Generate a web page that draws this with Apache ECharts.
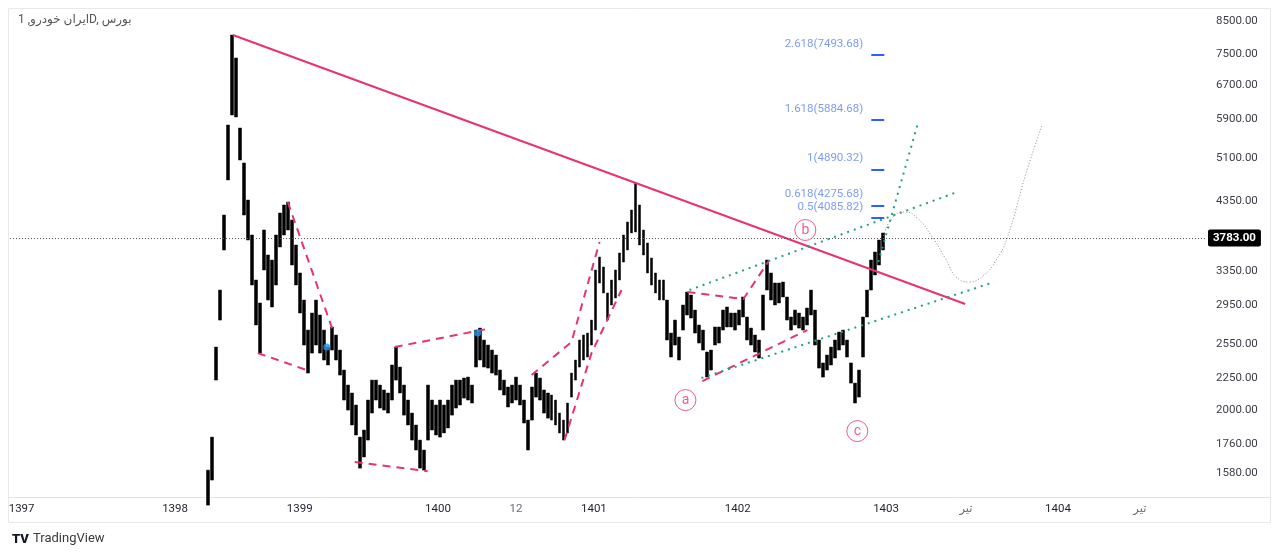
<!DOCTYPE html>
<html>
<head>
<meta charset="utf-8">
<script src="https://cdn.jsdelivr.net/npm/echarts@6/dist/echarts.min.js"></script>
<style>
  html, body { margin: 0; padding: 0; background: #fff; }
  #chart { width: 1280px; height: 557px; }
</style>
</head>
<body>
<div id="chart"></div>
<script>
// one slot ~ a few trading days, slot index is the x value
const slotCount = 299
const firstSlot = 49

const highs = [
  1597, 1806, 2525, 3122, 4128, 5771, 8068, 7406, 5707, 5010,
  4365, 3832, 3241, 2975, 3904, 3557, 3491, 3832, 4159, 4285,
  4333, 4052, 3692, 3327, 3008, 2690, 2866, 3008, 2845, 2690,
  2525, 2721, 2641, 2497, 2318, 2192, 2128, 2035, 1806, 1854,
  2073, 2233, 2233, 2192, 2152, 2128, 2362, 2525, 2344, 2192,
  2073, 1975, 1889, 1786, 1721, 2192, 2073, 2035, 2073, 2035,
  2073, 2192, 2233, 2233, 2250, 2258, 2192, 2690, 2710, 2592,
  2544, 2497, 2451, 2318, 2233, 2176, 2192, 2258, 2192, 2073,
  1924, 2176, 2292, 2250, 2152, 2128, 2112, 2073, 1975, 1924,
  2050, 2292, 2406, 2592, 2641, 2660, 2792, 3364, 3530, 3402,
  3088, 3241, 3364, 3584, 3832, 4022, 4206, 4651, 4285, 3904,
  3720, 3517, 3327, 3241, 3241, 3008, 2660, 2792, 2621, 2953,
  3099, 3065, 2898, 2741, 2690, 2479, 2497, 2721, 2721, 2898,
  2931, 2866, 2866, 2898, 3042, 2824, 2710, 2641, 2592, 3065,
  3491, 3327, 3205, 3205, 3217, 3042, 2824, 2898, 2866, 2824,
  2920, 3122, 2898, 2592, 2380, 2451, 2525, 2592, 2670, 2690,
  2592, 2380, 2208, 2318, 2824, 3122, 3491, 3597, 3761, 3861
]
const lows = [
  1402, 1539, 2233, 2792, 3624, 4703, 5990, 5946, 5066, 4128,
  3761, 3181, 2741, 2469, 3364, 3008, 2931, 3181, 3665, 3832,
  3904, 3427, 3181, 2866, 2544, 2292, 2469, 2544, 2469, 2406,
  2362, 2497, 2406, 2275, 2073, 1997, 1889, 1820, 1609, 1677,
  1786, 1975, 2073, 2012, 1997, 1975, 2073, 2233, 2128, 1960,
  1889, 1786, 1721, 1609, 1597, 1786, 1854, 1820, 1806, 1834,
  1868, 1960, 2012, 2035, 2088, 2073, 2050, 2344, 2406, 2344,
  2335, 2292, 2275, 2152, 2112, 2020, 2050, 2073, 2035, 1903,
  1721, 1924, 2096, 2073, 1975, 1938, 1924, 1889, 1834, 1786,
  1834, 2096, 2233, 2344, 2406, 2433, 2544, 2690, 3205, 3088,
  2792, 2953, 3031, 3241, 3465, 3624, 3861, 3875, 3692, 3557,
  3327, 3181, 3088, 3008, 3008, 2592, 2433, 2544, 2406, 2690,
  2845, 2813, 2660, 2563, 2497, 2258, 2318, 2544, 2563, 2690,
  2721, 2721, 2690, 2741, 2824, 2592, 2544, 2479, 2424, 2690,
  3122, 3008, 2953, 2975, 3042, 2792, 2690, 2741, 2710, 2690,
  2741, 2845, 2544, 2335, 2258, 2318, 2362, 2424, 2497, 2544,
  2433, 2208, 2050, 2096, 2433, 2824, 3122, 3302, 3427, 3624
]

const priceTicks = [8500, 7500, 6700, 5900, 5100, 4350, 3350, 2950, 2550, 2250, 2000, 1760, 1580]
const timeTickSlots = [2.4, 40.8, 72, 106.6, 126.1, 145.6, 181.6, 218.7, 238.7, 261.7, 282.2]
const timeTickLabels = ['1397', '1398', '1399', '1400', '12', '1401', '1402', '1403', 'تیر', '1404', 'تیر']
const lastPrice = 3783

const fibLevels = [2.618, 1.618, 1, 0.618, 0.5]
const fibPrices = [7493.68, 5884.68, 4890.32, 4275.68, 4085.82]
const fibSlots = [215, 218.25]

// drawings: [slot, price]
const trendLine = [[55.25, 8068], [238.5, 2964]]
const dashedLines = [
  [[69, 4333], [80.25, 2690]],
  [[61.5, 2469], [73.75, 2318]],
  [[85.75, 1646], [104, 1591]],
  [[95.75, 2525], [118.75, 2700]],
  [[130, 2275], [140, 2573], [147, 3733]],
  [[138.25, 1786], [145, 2469], [152.5, 3122]],
  [[169, 3099], [183, 3019], [189.5, 3491]],
  [[172.75, 2225], [199, 2690]]
]
const dottedLines = [
  [[169.5, 3122], [236.5, 4497]],
  [[172.5, 2250], [245.75, 3217]],
  [[216.75, 3465], [226.75, 5836]]
]
const projection = [
  [218, 3818], [220.25, 4082], [223.25, 4175], [226.5, 4082], [230.75, 3761],
  [233.75, 3491], [236.25, 3278], [239.5, 3217], [243.25, 3302], [246.25, 3491],
  [249, 3789], [253.75, 4827], [257.75, 5771]
]
const waveNames = ['a', 'b', 'c']
const waveSlots = [168.5, 198.5, 211.5]
const wavePrices = [2073, 3904, 1847]
const blueDots = [[78.75, 2525], [116.5, 2661]]

const pink = '#e8336f'
const teal = '#1fa08a'
const ln = Math.log
const toXY = pts => pts.map(p => [p[0], ln(p[1])])

const chart = echarts.init(document.getElementById('chart'))

const series = [
  {
    type: 'candlestick',
    barWidth: 3.4,
    data: highs.map((h, k) => [firstSlot + k, ln(lows[k]), ln(h), ln(lows[k]), ln(h)]),
    itemStyle: { color: '#000', color0: '#000', borderColor: '#000', borderColor0: '#000', borderWidth: 0.5 },
    markLine: {
      silent: true,
      symbol: ['none', 'none'],
      data: [{ yAxis: ln(lastPrice) }],
      lineStyle: { color: '#555', type: [1, 2], width: 1 },
      label: {
        position: 'end', distance: 3, formatter: lastPrice.toFixed(2),
        backgroundColor: '#000', color: '#fff', fontWeight: 'bold', fontSize: 11.5,
        padding: [3, 5, 2, 5], borderRadius: 2
      }
    }
  },
  {
    type: 'line', data: toXY(trendLine), symbol: 'none', silent: true,
    lineStyle: { color: pink, width: 2 }
  }
]

dashedLines.forEach(pts => series.push({
  type: 'line', data: toXY(pts), symbol: 'none', silent: true,
  lineStyle: { color: pink, width: 2, type: [8, 6] }
}))
dottedLines.forEach(pts => series.push({
  type: 'line', data: toXY(pts), symbol: 'none', silent: true,
  lineStyle: { color: teal, width: 2, type: [2, 5] }
}))

series.push({
  type: 'line', data: toXY(projection), symbol: 'none', silent: true, smooth: 0.5,
  lineStyle: { color: '#8a8a8a', width: 1, type: [1, 2] }
})

// fib levels
series.push({
  type: 'line', data: [], silent: true,
  markLine: {
    silent: true, symbol: ['none', 'none'], label: { show: false },
    lineStyle: { color: '#2962ff', width: 2, type: 'solid' },
    data: fibPrices.map(p => [{ coord: [fibSlots[0], ln(p)] }, { coord: [fibSlots[1], ln(p)] }])
  }
})
series.push({
  type: 'scatter', silent: true, symbolSize: 0,
  data: fibPrices.map(p => [fibSlots[0], ln(p)]),
  label: {
    show: true, position: 'left', distance: 8, offset: [0, -11],
    color: '#5b84f3', fontSize: 11.5,
    formatter: p => fibLevels[p.dataIndex] + '(' + fibPrices[p.dataIndex].toFixed(2) + ')'
  }
})

series.push({
  type: 'scatter', silent: true, symbol: 'circle', symbolSize: 21,
  data: waveSlots.map((s, k) => [s, ln(wavePrices[k])]),
  itemStyle: { color: '#fff', borderColor: pink, borderWidth: 1 },
  label: { show: true, position: 'inside', color: pink, fontSize: 14, formatter: p => waveNames[p.dataIndex] },
  z: 5
})
series.push({
  type: 'scatter', silent: true, symbolSize: 7,
  data: toXY(blueDots),
  itemStyle: { color: '#2196f3' },
  z: 5
})

chart.setOption({
  animation: false,
  textStyle: { fontFamily: 'Roboto, "DejaVu Sans", sans-serif' },
  grid: { left: 10, right: 75, top: 9, bottom: 60 },
  xAxis: {
    type: 'value', min: -0.5, max: slotCount - 0.5,
    axisLine: { show: false }, axisTick: { show: false }, splitLine: { show: false },
    axisLabel: {
      customValues: timeTickSlots,
      margin: 6, fontSize: 11.5, color: '#1e222d',
      formatter: v => {
        const k = timeTickSlots.findIndex(s => Math.abs(s - v) < 1e-6)
        const t = timeTickLabels[k] || ''
        return /^\d{4}$/.test(t) ? t : '{m|' + t + '}'
      },
      rich: { m: { color: '#6a6d78', fontSize: 11.5 } }
    }
  },
  yAxis: {
    type: 'value', position: 'right', min: ln(1445), max: ln(8888),
    axisLine: { show: false }, axisTick: { show: false }, splitLine: { show: false },
    axisLabel: {
      customValues: priceTicks.map(ln),
      margin: 11, fontSize: 11.5, color: '#3b3e47',
      formatter: v => Math.exp(v).toFixed(2)
    }
  },
  graphic: [
    { type: 'rect', shape: { x: 8.5, y: 8.5, width: 1262, height: 514 }, style: { fill: 'none', stroke: '#e6e8ee', lineWidth: 1 }, silent: true },
    { type: 'line', shape: { x1: 9, y1: 497.5, x2: 1270, y2: 497.5 }, style: { stroke: '#e0e3eb', lineWidth: 1 }, silent: true },
    { type: 'text', left: 18, top: 14, style: { text: 'ایران خودرو, 1D, بورس', fill: '#555', font: '12px Roboto, "DejaVu Sans", sans-serif' }, silent: true },
    { type: 'text', left: 12, top: 533, style: { text: 'TV', fill: '#131722', font: '900 13px Roboto, "DejaVu Sans", sans-serif' }, silent: true },
    { type: 'text', left: 33, top: 532, style: { text: 'TradingView', fill: '#3a3a3a', font: '13px Roboto, "DejaVu Sans", sans-serif' }, silent: true }
  ],
  series: series
})
</script>
</body>
</html>
